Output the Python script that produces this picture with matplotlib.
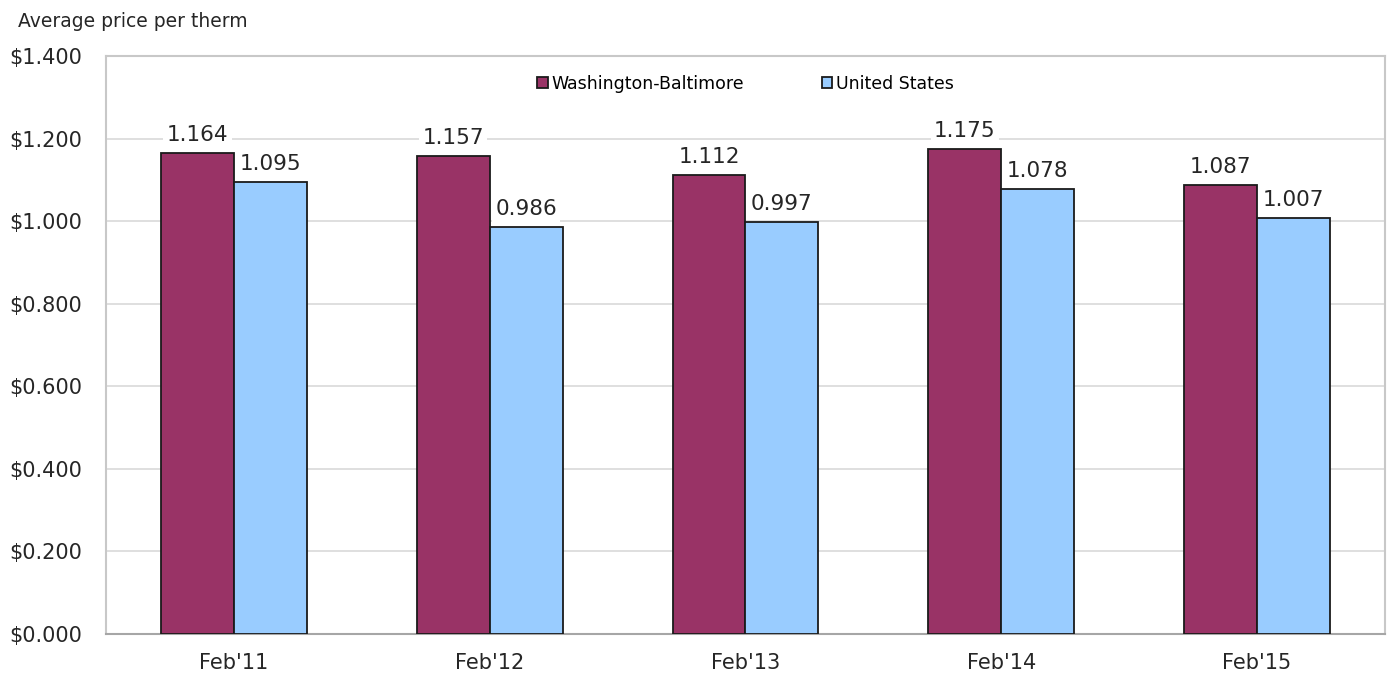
import numpy as np
import matplotlib.pyplot as plt

plt.rcParams['font.family'] = ['DejaVu Sans']

# data
months = ["Feb'11", "Feb'12", "Feb'13", "Feb'14", "Feb'15"]
wash_balt = [1.164, 1.157, 1.112, 1.175, 1.087]
us_avg = [1.095, 0.986, 0.997, 1.078, 1.007]
yticks = [0.0, 0.2, 0.4, 0.6, 0.8, 1.0, 1.2, 1.4]

fig = plt.figure(figsize=(13.95, 6.74), dpi=100)
ax = fig.add_axes([0.076, 0.0593, 0.9168, 0.8576])

x = np.arange(len(months))
w = 0.285
b1 = ax.bar(x - w / 2, wash_balt, w, color='#993366', edgecolor='#1a1a1a',
            linewidth=1.3, label='Washington-Baltimore', zorder=3)
b2 = ax.bar(x + w / 2, us_avg, w, color='#99ccff', edgecolor='#1a1a1a',
            linewidth=1.3, label='United States', zorder=3)

for bars in (b1, b2):
    for r in bars:
        ax.annotate(f"{r.get_height():.3f}",
                    (r.get_x() + r.get_width() / 2, r.get_height()),
                    xytext=(0, 6), textcoords='offset points',
                    ha='center', va='bottom', fontsize=15.5, color='#262626',
                    bbox=dict(boxstyle='square,pad=0.15', fc='white', ec='none'),
                    zorder=4)

ax.set_xlim(-0.5, len(months) - 0.5)
ax.set_ylim(0, 1.4)
ax.set_yticks(yticks)
ax.set_yticklabels([f"${v:.3f}" for v in yticks])
ax.set_xticks(x)
ax.set_xticklabels(months)
ax.tick_params(axis='both', length=0, labelsize=15, colors='#262626')
ax.tick_params(axis='y', pad=17)
ax.tick_params(axis='x', pad=14)

ax.yaxis.grid(True, color='#d9d9d9', linewidth=1.2, zorder=0)
ax.set_axisbelow(True)
for s in ax.spines.values():
    s.set_color('#c8c8c8')
    s.set_linewidth(1.5)
ax.spines['bottom'].set_color('#a6a6a6')

leg = ax.legend(loc='upper center', bbox_to_anchor=(0.5, 0.995), ncol=2,
                frameon=False, fontsize=12.5, handlelength=0.6, handleheight=0.6,
                handletextpad=0.2, columnspacing=4.5)

fig.text(0.013, 0.968, "Average price per therm", fontsize=13.5,
         color='#262626', ha='left', va='center')

fig.savefig('out.png', dpi=100)
